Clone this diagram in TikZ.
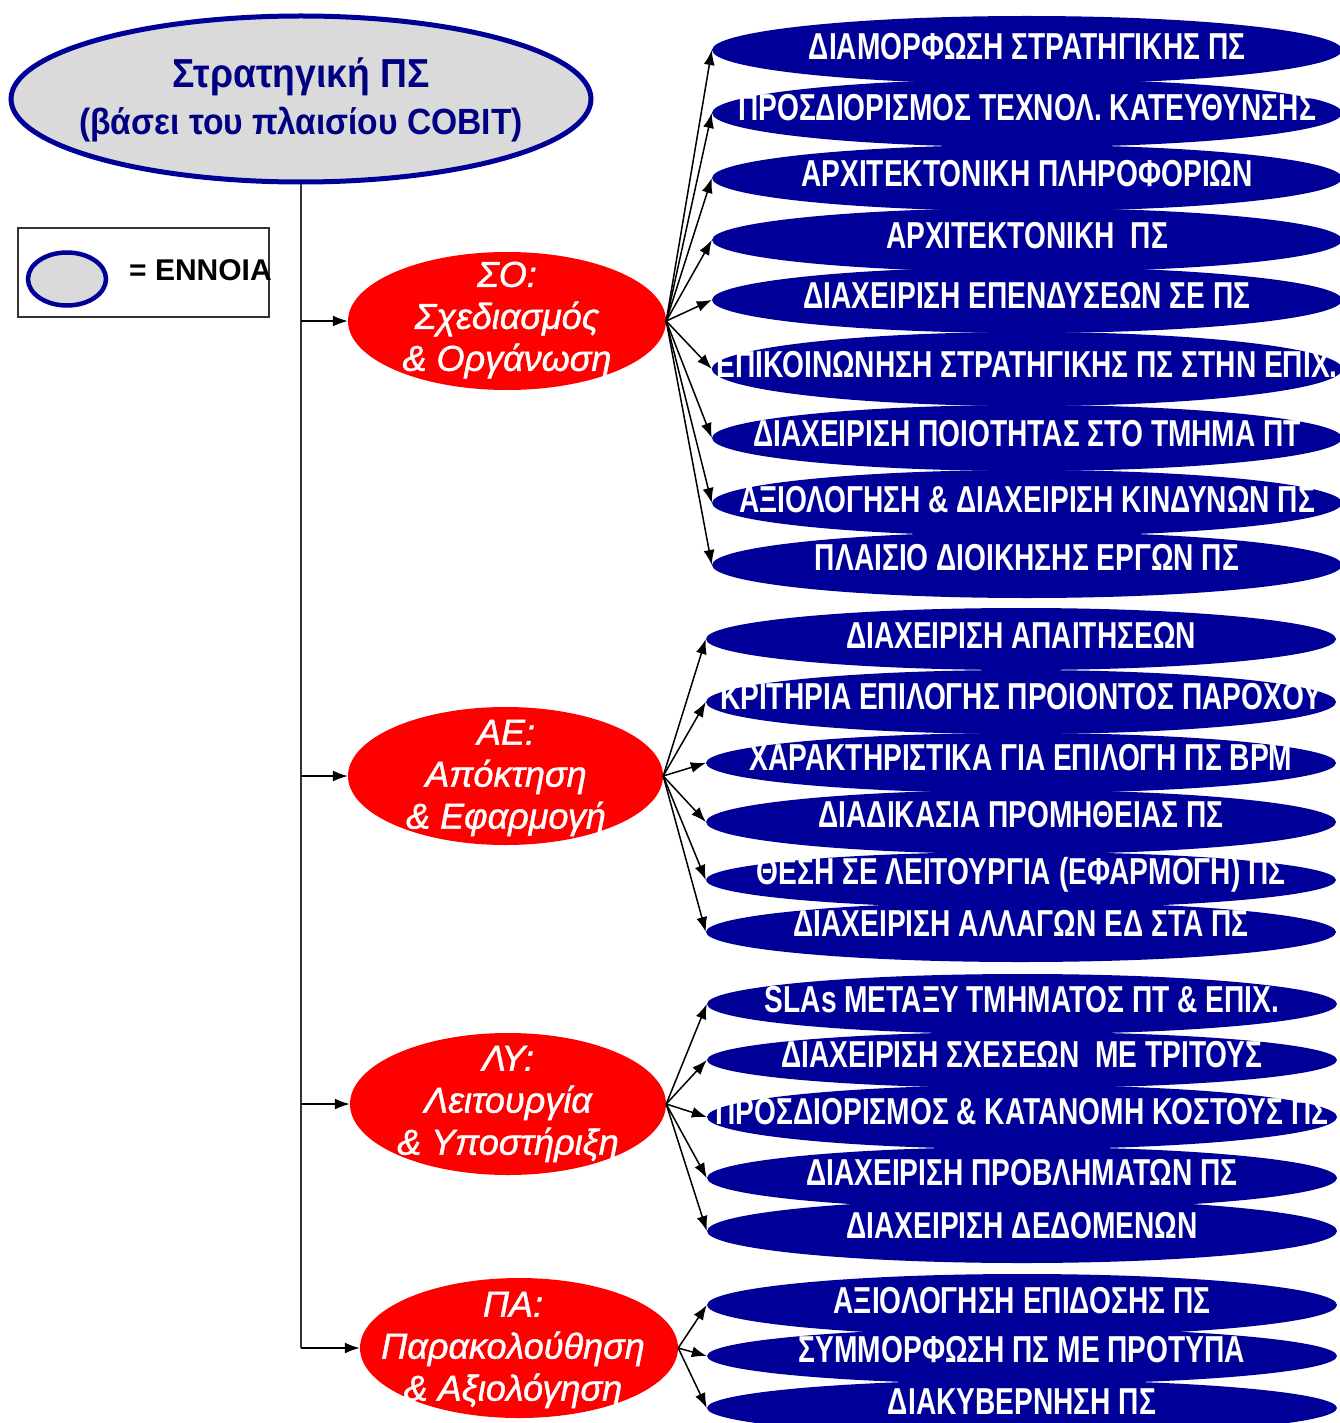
\documentclass[tikz,border=0pt]{standalone}
\usepackage{fontspec}
\setmainfont{Liberation Sans}
\newfontfamily\capsfont[FakeStretch=0.75]{Liberation Sans}
\newfontfamily\titlefont[FakeStretch=0.92]{Liberation Sans}
\newfontfamily\redfont[ItalicFeatures={FakeBold=1.2}]{Liberation Sans}
\usetikzlibrary{shapes.geometric,arrows.meta}
\definecolor{navy}{RGB}{0,0,153}
\definecolor{titleblue}{RGB}{0,0,130}
\definecolor{conceptgrey}{RGB}{218,218,218}
\definecolor{pred}{RGB}{255,0,0}
\begin{document}
\begin{tikzpicture}[x=1pt,y=-1pt,
  rootell/.style={ellipse, draw=navy, line width=5pt, fill=conceptgrey, minimum width=580pt, minimum height=166pt, inner sep=0pt},
  legell/.style={ellipse, draw=navy, line width=4.5pt, fill=conceptgrey, minimum width=78pt, minimum height=53pt, inner sep=0pt},
  redell/.style={ellipse, fill=pred, minimum width=318pt, minimum height=138pt, inner sep=0pt},
  redtxt/.style={text=white, align=center, inner sep=0pt, font=\redfont\itshape\fontsize{36}{42}\selectfont},
  blueell/.style={ellipse, fill=navy, minimum width=630pt, inner sep=0pt},
  bluetxt/.style={text=white, inner sep=0pt, font=\capsfont\bfseries\fontsize{37.5}{40}\selectfont},
  arr/.style={draw=black, line width=1.5pt, -{Latex[length=15pt,width=11pt]}},
  trunk/.style={draw=black!80, line width=1.5pt}
]
\useasboundingbox (0,0) rectangle (1340,1423);
\fill[white] (0,0) rectangle (1340,1423);

% root concept
\node[rootell] (root) at (301,99) {};
\node[text=titleblue, inner sep=0pt, font=\titlefont\bfseries\fontsize{40.5}{44}\selectfont] (rt1) at (301,77) {Στρατηγική ΠΣ};
\node[text=titleblue, inner sep=0pt, font=\titlefont\bfseries\fontsize{36.5}{44}\selectfont] (rt2) at (301,125) {(βάσει του πλαισίου COBIT)};

% legend
\node[draw=black!80, line width=1.2pt, minimum width=251pt, minimum height=89pt, inner sep=0pt] (legend) at (143.5,272.5) {};
\node[legell] (legel) at (67,279) {};
\node[anchor=west, inner sep=0pt, font=\bfseries\fontsize{30}{34}\selectfont] (legtxt) at (129,270) {= ΕΝΝΟΙΑ};

% red process ellipses
\node[redell] (so) at (507,321) {};
\node[redell, minimum width=315pt] (ae) at (505.5,776) {};
\node[redell, minimum width=316pt, minimum height=142pt] (ly) at (508,1104) {};
\node[redell, minimum height=140pt] (pa) at (519,1348) {};
\node[redtxt] (sot) at (507,320) {ΣΟ:\\Σχεδιασμός\\\& Οργάνωση};
\node[redtxt] (aet) at (506,778) {ΑΕ:\\Απόκτηση\\\& Εφαρμογή};
\node[redtxt] (lyt) at (508,1104) {ΛΥ:\\Λειτουργία\\\& Υποστήριξη};
\node[redtxt] (pat) at (513,1350) {ΠΑ:\\Παρακολούθηση\\\& Αξιολόγηση};

% trunk and branches
\coordinate (j1) at (root.south |- so.west);
\coordinate (j2) at (root.south |- ae.west);
\coordinate (j3) at (root.south |- ly.west);
\coordinate (j4) at (root.south |- pa.west);
\draw[trunk] (root.south) -- (j4);
\draw[arr] (j1) -- (so.west);
\draw[arr] (j2) -- (ae.west);
\draw[arr] (j3) -- (ly.west);
\draw[arr] (j4) -- (pa.west);

% blue ellipses
\foreach \n/\cx/\cy/\h in {
  b1/1027/50/68, b2/1027/113/68, b3/1027/178/66, b4/1027/240/64, b5/1027/300/66,
  b6/1027/369/74, b7/1027/438/66, b8/1027/503/66, b9/1027/565/66,
  b10/1021/639/62, b11/1021/702/64, b12/1021/763/60, b13/1021/822/64, b14/1021/880/56, b15/1021/932/60,
  b16/1022/1004/60, b17/1022/1060/56, b18/1022/1117/64, b19/1022/1178/62, b20/1022/1231/64,
  b21/1022/1305/62, b22/1022/1356/56, b23/1022/1408/56}
  \node[blueell, minimum height=\h pt] (\n) at (\cx,\cy) {};

\foreach \n/\cx/\ty/\txt in {
  b1/1027/47/{ΔΙΑΜΟΡΦΩΣΗ ΣΤΡΑΤΗΓΙΚΗΣ ΠΣ},
  b2/1027/108/{ΠΡΟΣΔΙΟΡΙΣΜΟΣ ΤΕΧΝΟΛ. ΚΑΤΕΥΘΥΝΣΗΣ},
  b3/1027/174/{ΑΡΧΙΤΕΚΤΟΝΙΚΗ ΠΛΗΡΟΦΟΡΙΩΝ},
  b4/1027/236/{ΑΡΧΙΤΕΚΤΟΝΙΚΗ\ \ ΠΣ},
  b5/1027/295/{ΔΙΑΧΕΙΡΙΣΗ ΕΠΕΝΔΥΣΕΩΝ ΣΕ ΠΣ},
  b6/1027/365/{ΕΠΙΚΟΙΝΩΝΗΣΗ ΣΤΡΑΤΗΓΙΚΗΣ ΠΣ ΣΤΗΝ ΕΠΙΧ.},
  b7/1027/434/{ΔΙΑΧΕΙΡΙΣΗ ΠΟΙΟΤΗΤΑΣ ΣΤΟ ΤΜΗΜΑ ΠΤ},
  b8/1027/500/{ΑΞΙΟΛΟΓΗΣΗ \& ΔΙΑΧΕΙΡΙΣΗ ΚΙΝΔΥΝΩΝ ΠΣ},
  b9/1027/558/{ΠΛΑΙΣΙΟ ΔΙΟΙΚΗΣΗΣ ΕΡΓΩΝ ΠΣ},
  b10/1021/635/{ΔΙΑΧΕΙΡΙΣΗ ΑΠΑΙΤΗΣΕΩΝ},
  b11/1021/697/{ΚΡΙΤΗΡΙΑ ΕΠΙΛΟΓΗΣ ΠΡΟΙΟΝΤΟΣ ΠΑΡΟΧΟΥ},
  b12/1021/758/{ΧΑΡΑΚΤΗΡΙΣΤΙΚΑ ΓΙΑ ΕΠΙΛΟΓΗ ΠΣ BPM},
  b13/1021/815/{ΔΙΑΔΙΚΑΣΙΑ ΠΡΟΜΗΘΕΙΑΣ ΠΣ},
  b14/1021/875/{ΘΕΣΗ ΣΕ ΛΕΙΤΟΥΡΓΙΑ (ΕΦΑΡΜΟΓΗ) ΠΣ},
  b15/1021/923/{ΔΙΑΧΕΙΡΙΣΗ ΑΛΛΑΓΩΝ ΕΔ ΣΤΑ ΠΣ},
  b16/1022/1000/{SLAs ΜΕΤΑΞΥ ΤΜΗΜΑΤΟΣ ΠΤ \& ΕΠΙΧ.},
  b17/1022/1055/{ΔΙΑΧΕΙΡΙΣΗ ΣΧΕΣΕΩΝ\ \ ΜΕ ΤΡΙΤΟΥΣ},
  b18/1022/1112/{ΠΡΟΣΔΙΟΡΙΣΜΟΣ \& ΚΑΤΑΝΟΜΗ ΚΟΣΤΟΥΣ ΠΣ},
  b19/1022/1173/{ΔΙΑΧΕΙΡΙΣΗ ΠΡΟΒΛΗΜΑΤΩΝ ΠΣ},
  b20/1022/1226/{ΔΙΑΧΕΙΡΙΣΗ ΔΕΔΟΜΕΝΩΝ},
  b21/1022/1301/{ΑΞΙΟΛΟΓΗΣΗ ΕΠΙΔΟΣΗΣ ΠΣ},
  b22/1022/1350/{ΣΥΜΜΟΡΦΩΣΗ ΠΣ ΜΕ ΠΡΟΤΥΠΑ},
  b23/1022/1402/{ΔΙΑΚΥΒΕΡΝΗΣΗ ΠΣ}}
  \node[bluetxt] (\n t) at (\cx,\ty) {\txt};

% connectors
\foreach \i in {1,...,9} \draw[arr] (so.east) -- (b\i.west);
\foreach \i in {10,...,15} \draw[arr] (ae.east) -- (b\i.west);
\foreach \i in {16,...,20} \draw[arr] (ly.east) -- (b\i.west);
\foreach \i in {21,22,23} \draw[arr] (pa.east) -- (b\i.west);
\end{tikzpicture}
\end{document}
